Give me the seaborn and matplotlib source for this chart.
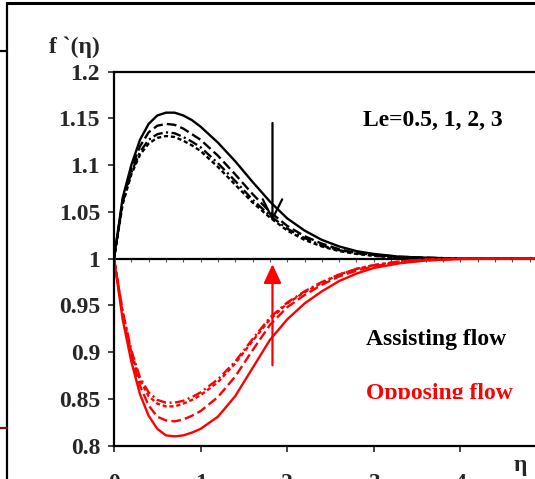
import numpy as np
import pandas as pd
import matplotlib
matplotlib.use("Agg")
import matplotlib.pyplot as plt
from matplotlib.lines import Line2D
from matplotlib.patches import FancyArrowPatch, Rectangle
import seaborn as sns

# similarity variable
eta = [0.0, 0.1, 0.2, 0.3, 0.4, 0.5, 0.6, 0.7, 0.8, 0.9, 1.0, 1.2, 1.4, 1.6,
       1.8, 2.0, 2.2, 2.4, 2.6, 2.8, 3.0, 3.3, 3.6, 4.0, 4.5, 5.0]

# velocity profiles f'(eta), assisting flow, Le = 0.5, 1, 2, 3
assist_le05 = [1.0, 1.065, 1.100, 1.127, 1.144, 1.153, 1.156, 1.156, 1.153, 1.148, 1.141, 1.124, 1.104,
               1.082, 1.061, 1.043, 1.030, 1.020, 1.013, 1.008, 1.005, 1.002, 1.001, 1.0, 1.0, 1.0]
assist_le1 = [1.0, 1.062, 1.096, 1.120, 1.135, 1.142, 1.144, 1.143, 1.139, 1.133, 1.127, 1.110, 1.090,
              1.069, 1.050, 1.035, 1.024, 1.016, 1.010, 1.006, 1.004, 1.002, 1.001, 1.0, 1.0, 1.0]
assist_le2 = [1.0, 1.060, 1.092, 1.114, 1.127, 1.133, 1.135, 1.134, 1.130, 1.125, 1.119, 1.102, 1.083,
              1.063, 1.046, 1.032, 1.022, 1.014, 1.009, 1.006, 1.003, 1.001, 1.0, 1.0, 1.0, 1.0]
assist_le3 = [1.0, 1.058, 1.090, 1.111, 1.123, 1.129, 1.131, 1.130, 1.126, 1.121, 1.115, 1.098, 1.079,
              1.060, 1.044, 1.030, 1.020, 1.013, 1.008, 1.005, 1.003, 1.001, 1.0, 1.0, 1.0, 1.0]

# velocity profiles f'(eta), opposing flow, Le = 0.5, 1, 2, 3
oppose_le05 = [1.0, 0.935, 0.890, 0.855, 0.832, 0.818, 0.811, 0.810, 0.811, 0.814, 0.818, 0.831, 0.853,
               0.883, 0.913, 0.935, 0.952, 0.965, 0.976, 0.984, 0.990, 0.995, 0.998, 0.9995, 1.0, 1.0]
oppose_le1 = [1.0, 0.940, 0.896, 0.864, 0.843, 0.831, 0.827, 0.826, 0.828, 0.832, 0.837, 0.852, 0.874,
              0.902, 0.929, 0.948, 0.961, 0.972, 0.981, 0.987, 0.992, 0.996, 0.998, 1.0, 1.0, 1.0]
oppose_le2 = [1.0, 0.943, 0.900, 0.870, 0.853, 0.845, 0.842, 0.842, 0.845, 0.849, 0.854, 0.868, 0.888,
              0.912, 0.935, 0.952, 0.964, 0.974, 0.983, 0.989, 0.993, 0.997, 0.999, 1.0, 1.0, 1.0]
oppose_le3 = [1.0, 0.944, 0.902, 0.873, 0.857, 0.849, 0.846, 0.846, 0.848, 0.852, 0.857, 0.871, 0.890,
              0.914, 0.937, 0.953, 0.965, 0.975, 0.983, 0.989, 0.993, 0.997, 0.999, 1.0, 1.0, 1.0]

y_ticks = [0.8, 0.85, 0.9, 0.95, 1.0, 1.05, 1.1, 1.15, 1.2]
y_tick_labels = ["0.8", "0.85", "0.9", "0.95", "1", "1.05", "1.1", "1.15", "1.2"]
x_ticks = [0, 1, 2, 3, 4, 5]
x_tick_labels = ["0", "1", "2", "3", "4", "5"]

sns.set_style("white")
plt.rcParams["font.family"] = ["Liberation Serif", "DejaVu Serif"]
plt.rcParams["font.weight"] = "bold"
plt.rcParams["lines.scale_dashes"] = False

W, H = 535, 479
fig = plt.figure(figsize=(W / 100, H / 100), dpi=100)
fig.patch.set_facecolor("white")

# axes box (right side runs past the figure edge)
left_px, right_px, top_px, bottom_px = 114, 547, 71.5, 445.7
ax = fig.add_axes([left_px / W, (H - bottom_px) / H,
                   (right_px - left_px) / W, (bottom_px - top_px) / H])
ax.set_facecolor("white")

solid = (0, ())
long_dash = (0, (7, 3))
dash_dot = (0, (7, 2.5, 1.5, 2.5))
short_dash = (0, (3, 2))

series = [
    (assist_le05, "black", solid),
    (assist_le1, "black", long_dash),
    (assist_le2, "black", dash_dot),
    (assist_le3, "black", short_dash),
    (oppose_le05, "red", solid),
    (oppose_le1, "red", long_dash),
    (oppose_le2, "red", short_dash),
    (oppose_le3, "red", dash_dot),
]
for vals, col, ls in series:
    df = pd.DataFrame({"eta": eta, "fp": vals})
    sns.lineplot(data=df, x="eta", y="fp", ax=ax, color=col, linestyle=ls,
                 linewidth=1.7, errorbar=None, sort=True, legend=False)

ax.axhline(1.0, color="black", linewidth=1.6, zorder=1)

ax.set_xlim(0, 5)
ax.set_ylim(0.8, 1.2)
ax.set_xlabel("")
ax.set_ylabel("")

ax.set_yticks(y_ticks)
ax.set_yticklabels(y_tick_labels)
ax.set_xticks(x_ticks)
ax.set_xticklabels(x_tick_labels)
ax.tick_params(axis="y", direction="out", length=4.5, width=1.2, pad=5.5,
               labelsize=17, left=True)
ax.tick_params(axis="x", direction="out", length=4, width=1.2, pad=16,
               labelsize=17, bottom=True)
for lab in ax.get_xticklabels() + ax.get_yticklabels():
    lab.set_fontweight("bold")

for side in ["left", "bottom", "top", "right"]:
    ax.spines[side].set_visible(True)
    ax.spines[side].set_color("black")
    ax.spines[side].set_linewidth(1.6)

# small marks along the f' = 1 line
mid = ax.secondary_xaxis(0.5)
mid.set_xticks(np.arange(0, 5.01, 0.2))
mid.set_xticklabels([])
mid.tick_params(direction="in", length=2.5, width=0.8, colors="#555555")
mid.spines["bottom"].set_visible(False)
mid.spines["top"].set_visible(False)

# trend arrows
ax.add_patch(FancyArrowPatch((1.83, 1.148), (1.83, 1.037),
                             arrowstyle="->,head_length=0.7,head_width=0.35",
                             mutation_scale=20, color="black", linewidth=1.6, zorder=5))
ax.add_patch(FancyArrowPatch((1.83, 0.883), (1.83, 0.997),
                             arrowstyle="-|>,head_length=0.58,head_width=0.27",
                             mutation_scale=20, color="red", linewidth=1.6, zorder=5))

# annotations
fs = 17
fig.text(433 / W, 1 - 120 / H, "Le=0.5, 1, 2, 3", ha="center", va="center",
         fontsize=fs, fontweight="bold", color="black")
fig.text(436 / W, 1 - 339 / H, "Assisting flow", ha="center", va="center",
         fontsize=fs, fontweight="bold", color="black")
opp = fig.text(439.5 / W, 1 - 393 / H, "Opposing flow", ha="center", va="center",
               fontsize=fs, fontweight="bold", color="red")
clip = Rectangle((0, H - 399), W, 399, transform=None)
opp.set_clip_path(clip)
opp.set_clip_on(True)

fig.text(74 / W, 1 - 47 / H, "f `(η)", ha="center", va="center",
         fontsize=fs, fontweight="bold")
fig.text(520 / W, 1 - 466 / H, "η", ha="center", va="center",
         fontsize=fs, fontweight="bold")

# surrounding frame lines
frame = [
    ((7 / W, 1.0), (1 - 3 / H, 1 - 3 / H), 2.2, "black"),
    ((7 / W, 7 / W), (0.0, 1 - 3 / H), 1.6, "black"),
    ((0.0, 7 / W), (1 - 51 / H, 1 - 51 / H), 1.6, "black"),
    ((0.0, 7 / W), (1 - 428 / H, 1 - 428 / H), 1.6, "#7a1010"),
]
for xs, ys, lw, col in frame:
    fig.add_artist(Line2D(xs, ys, transform=fig.transFigure, color=col, linewidth=lw))

fig.savefig("out.png", dpi=100)
